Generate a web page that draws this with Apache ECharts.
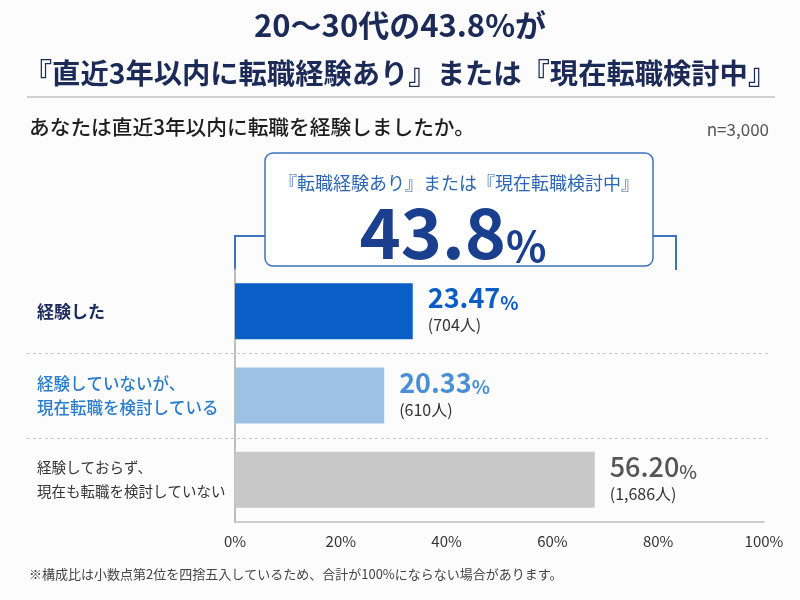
<!DOCTYPE html>
<html><head><meta charset="utf-8">
<script src="https://cdn.jsdelivr.net/npm/echarts@6/dist/echarts.min.js"></script>
<style>html,body{margin:0;padding:0;background:#fcfcfd}#c{width:800px;height:600px}</style>
</head><body><div id="c"></div>
<script>
const categories = ['経験した', '経験していないが、\n現在転職を検討している', '経験しておらず、\n現在も転職を検討していない'];
// bar lengths as drawn against the 0-100% axis in the reference
const barLengths = [33.6, 28.2, 68.0];
// printed shares and head counts
const sharePct = ['23.47', '20.33', '56.20'];
const counts = ['704', '610', '1,686'];
const xTicks = [0, 20, 40, 60, 80, 100];
const headline = '43.8';

const FONT = '"Noto Sans CJK JP", "Noto Sans", sans-serif';
const barColors = ['#0a5fc6', '#9dc0e6', '#c8c8c8'];
const catColors = ['#1b2a5c', '#2a7ccc', '#333333'];
const valColors = ['#0b5cc5', '#4a8fd6', '#555555'];

const chart = echarts.init(document.getElementById('c'));
const option = {
  backgroundColor: '#fcfcfd',
  textStyle: { fontFamily: FONT },
  title: [
    { text: '{a|20〜30代の43.8%が}\n{b|『直近3年以内に転職経験あり』または『現在転職検討中』}', left: 'center', top: -4,
      textStyle: { fontFamily: FONT, fontSize: 28, fontWeight: 'bold', color: '#1b2a56', lineHeight: 48,
        rich: {
          a: { fontFamily: FONT, fontSize: 31, fontWeight: 'bold', color: '#1b2a56', lineHeight: 48 },
          b: { fontFamily: FONT, fontSize: 28.3, fontWeight: 'bold', color: '#1b2a56', lineHeight: 48 }
        } } },
    { text: 'あなたは直近3年以内に転職を経験しましたか。', left: 24, top: 112,
      textStyle: { fontFamily: FONT, fontSize: 20.7, fontWeight: 500, color: '#1e1e1e' } },
    { text: 'n=3,000', right: 26, top: 116,
      textStyle: { fontFamily: FONT, fontSize: 17, fontWeight: 'normal', color: '#555' } },
    { text: '※構成比は小数点第2位を四捨五入しているため、合計が100%にならない場合があります。', left: 24, top: 563,
      textStyle: { fontFamily: FONT, fontSize: 13, fontWeight: 'normal', color: '#444' } }
  ],
  grid: { left: 235, right: 36, top: 269, height: 253, containLabel: false },
  xAxis: {
    type: 'value', min: xTicks[0], max: xTicks[xTicks.length - 1], interval: 20,
    axisLine: { show: true, lineStyle: { color: '#bdbdbd', width: 1.5 } },
    axisTick: { show: false }, splitLine: { show: false },
    axisLabel: { formatter: '{value}%', color: '#333', fontSize: 15, margin: 12, fontFamily: FONT }
  },
  yAxis: {
    type: 'category', inverse: true, data: categories,
    axisLine: { show: true, lineStyle: { color: '#aaaaaa', width: 1.5 } },
    axisTick: { show: false }, splitLine: { show: false },
    axisLabel: {
      align: 'left', margin: 198,
      formatter: (v, i) => `{c${i}|${v}}`,
      rich: {
        c0: { fontSize: 17, fontWeight: 'bold', color: catColors[0], lineHeight: 24, fontFamily: FONT },
        c1: { fontSize: 16.5, fontWeight: 500, color: catColors[1], lineHeight: 24, fontFamily: FONT },
        c2: { fontSize: 14.5, fontWeight: 'normal', color: catColors[2], lineHeight: 24, fontFamily: FONT }
      }
    }
  },
  series: [{
    type: 'bar', barWidth: 56,
    data: barLengths.map((v, i) => ({ value: v, itemStyle: { color: barColors[i] } })),
    label: {
      show: true, position: 'right', distance: 15,
      formatter: p => `{v${p.dataIndex}|${sharePct[p.dataIndex]}}{p${p.dataIndex}|%}\n{n|(${counts[p.dataIndex]}人)}`,
      rich: {
        v0: { fontSize: 27, fontWeight: 'bold', color: valColors[0], lineHeight: 28, fontFamily: FONT },
        p0: { fontSize: 19, fontWeight: 'bold', color: valColors[0], lineHeight: 28, fontFamily: FONT, verticalAlign: 'bottom' },
        v1: { fontSize: 27, fontWeight: 'bold', color: valColors[1], lineHeight: 28, fontFamily: FONT },
        p1: { fontSize: 19, fontWeight: 'bold', color: valColors[1], lineHeight: 28, fontFamily: FONT, verticalAlign: 'bottom' },
        v2: { fontSize: 27, fontWeight: 500, color: valColors[2], lineHeight: 28, fontFamily: FONT },
        p2: { fontSize: 19, fontWeight: 500, color: valColors[2], lineHeight: 28, fontFamily: FONT, verticalAlign: 'bottom' },
        n: { fontSize: 16, color: '#333', lineHeight: 26, fontFamily: FONT }
      }
    }
  }]
};
chart.setOption(option);

const centers = categories.map(c => chart.convertToPixel({ yAxisIndex: 0 }, c));
const seps = [];
for (let i = 0; i < centers.length - 1; i++) {
  const y = Math.round((centers[i] + centers[i + 1]) / 2) + 0.5;
  seps.push({ type: 'line', shape: { x1: 27, y1: y, x2: 768, y2: y }, silent: true,
    style: { stroke: '#c9c9c9', lineWidth: 1, lineDash: [3, 3] } });
}
const x0 = chart.convertToPixel({ xAxisIndex: 0 }, 0);
const blue = '#3d72bd';
chart.setOption({
  graphic: seps.concat([
    { type: 'line', shape: { x1: 27, y1: 97, x2: 775, y2: 97 }, style: { stroke: '#d0d0d0', lineWidth: 2 } },
    { type: 'polyline', shape: { points: [[x0, 270], [x0, 236], [265, 236]] }, style: { stroke: blue, lineWidth: 2, fill: null } },
    { type: 'polyline', shape: { points: [[653, 236], [676, 236], [676, 270]] }, style: { stroke: blue, lineWidth: 2, fill: null } },
    { type: 'rect', shape: { x: 265, y: 153, width: 388, height: 113, r: 8 }, style: { fill: '#ffffff', stroke: blue, lineWidth: 1.5 } },
    { type: 'text', x: 459, y: 183, style: { text: '『転職経験あり』または『現在転職検討中』', fill: '#2c66b4', font: '18px ' + FONT, align: 'center', verticalAlign: 'middle' } },
    { type: 'text', x: 453, y: 232, style: {
        text: `{a|${headline}}{b|%}`, align: 'center', verticalAlign: 'middle',
        rich: {
          a: { fontSize: 70, fontWeight: 'bold', fill: '#1a3f8f', fontFamily: FONT, lineHeight: 70 },
          b: { fontSize: 42, fontWeight: 'bold', fill: '#1a3f8f', fontFamily: FONT, lineHeight: 70, verticalAlign: 'bottom' }
        } } }
  ])
});
</script></body></html>
